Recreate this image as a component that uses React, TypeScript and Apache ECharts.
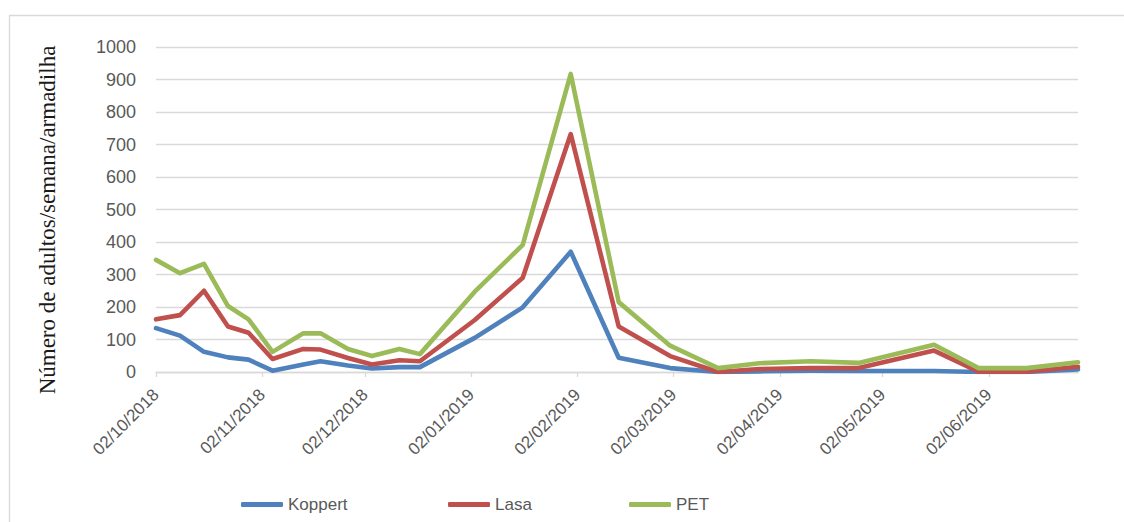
import React, { useEffect, useRef } from "react";
import * as echarts from "echarts";

const sampleDates = [
  "2018-10-02", "2018-10-09", "2018-10-16", "2018-10-23", "2018-10-29",
  "2018-11-05", "2018-11-14", "2018-11-19", "2018-11-27", "2018-12-04",
  "2018-12-12", "2018-12-18", "2019-01-03", "2019-01-17", "2019-01-31",
  "2019-02-14", "2019-03-01", "2019-03-15", "2019-03-27", "2019-04-11",
  "2019-04-25", "2019-05-17", "2019-05-30", "2019-06-13", "2019-06-28",
];
const koppert = [135, 112, 62, 45, 38, 4, 23, 33, 20, 11, 15, 15, 105, 199, 370, 44, 12, 0, 2, 4, 3, 3, 0, 0, 8];
const lasa = [162, 175, 250, 140, 121, 40, 71, 69, 43, 23, 36, 33, 160, 290, 732, 140, 49, 0, 9, 12, 12, 66, 1, 1, 16];
const pet = [345, 304, 333, 203, 162, 62, 119, 119, 71, 49, 71, 55, 247, 391, 917, 215, 81, 12, 27, 33, 28, 84, 12, 12, 30];

const axisStart = "2018-10-02";
const axisEnd = "2019-06-28";
const seriesNames = ["Koppert", "Lasa", "PET"];
const seriesColors = ["#4F81BD", "#C0504D", "#9BBB59"];
const yTitle = "Número de adultos/semana/armadilha";

function buildDays(start: string, end: string): string[] {
  const out: string[] = [];
  const [sy, sm, sd] = start.split("-").map(Number);
  const [ey, em, ed] = end.split("-").map(Number);
  let t = Date.UTC(sy, sm - 1, sd);
  const tEnd = Date.UTC(ey, em - 1, ed);
  while (t <= tEnd) {
    const d = new Date(t);
    const s =
      d.getUTCFullYear() +
      "-" +
      String(d.getUTCMonth() + 1).padStart(2, "0") +
      "-" +
      String(d.getUTCDate()).padStart(2, "0");
    out.push(s);
    t += 86400000;
  }
  return out;
}

export default function App() {
  const ref = useRef<HTMLDivElement>(null);
  useEffect(() => {
    if (!ref.current) return;
    const chart = echarts.init(ref.current, undefined, { renderer: "svg" });
    const days = buildDays(axisStart, axisEnd);
    const toSeries = (vals: number[]) =>
      days.map((d) => {
        const i = sampleDates.indexOf(d);
        return i >= 0 ? vals[i] : null;
      });
    const allVals = [koppert, lasa, pet];
    const isMonthTick = (_i: number, v: string) => v.slice(8, 10) === "02";
    const font = "'Liberation Sans', Arial, sans-serif";

    chart.setOption({
      animation: false,
      backgroundColor: "#ffffff",
      grid: { left: 156, right: 46, top: 47, bottom: 150, containLabel: false },
      xAxis: {
        type: "category",
        data: days,
        boundaryGap: false,
        axisLine: { show: true, lineStyle: { color: "#D9D9D9", width: 1.3 } },
        axisTick: {
          show: true,
          interval: isMonthTick,
          length: 5,
          lineStyle: { color: "#D9D9D9", width: 1.3 },
        },
        axisLabel: {
          interval: isMonthTick,
          rotate: 45,
          margin: 20,
          color: "#595959",
          fontSize: 17,
          fontFamily: font,
          formatter: (v: string) => v.slice(8, 10) + "/" + v.slice(5, 7) + "/" + v.slice(0, 4),
        },
        splitLine: { show: false },
      },
      yAxis: {
        type: "value",
        min: 0,
        max: 1000,
        interval: 100,
        axisLine: { show: false },
        axisTick: { show: false },
        axisLabel: {
          color: "#595959",
          fontSize: 18,
          fontFamily: font,
          margin: 20,
          formatter: (v: number) => String(v),
        },
        splitLine: { show: true, lineStyle: { color: "#D9D9D9", width: 1.3 } },
      },
      legend: seriesNames.map((n, i) => ({
        data: [n],
        left: [241, 448, 629][i],
        top: 496,
        padding: 0,
        icon: "roundRect",
        itemWidth: 42,
        itemHeight: 5,
        textStyle: { color: "#595959", fontSize: 17, fontFamily: font },
      })),
      graphic: [
        {
          type: "rect",
          shape: { x: 9.5, y: 15.5, width: 1300, height: 700 },
          style: { fill: "none", stroke: "#D9D9D9", lineWidth: 1.3 },
          silent: true,
        },
        {
          type: "text",
          x: 47,
          y: 220,
          rotation: Math.PI / 2,
          style: {
            text: yTitle,
            fill: "#1a1a1a",
            font: "23px 'Liberation Serif', 'Times New Roman', serif",
            align: "center",
            verticalAlign: "middle",
          },
          silent: true,
        },
      ],
      series: seriesNames.map((n, i) => ({
        name: n,
        type: "line",
        data: toSeries(allVals[i]),
        connectNulls: true,
        showSymbol: false,
        symbol: "none",
        color: seriesColors[i],
        lineStyle: { width: 4.6, color: seriesColors[i], cap: "round", join: "round" },
        itemStyle: { color: seriesColors[i] },
      })),
    });
    return () => chart.dispose();
  }, []);
  return (
    <div
      ref={ref}
      style={{ position: "fixed", left: 0, top: 0, width: 1124, height: 522 }}
    />
  );
}
